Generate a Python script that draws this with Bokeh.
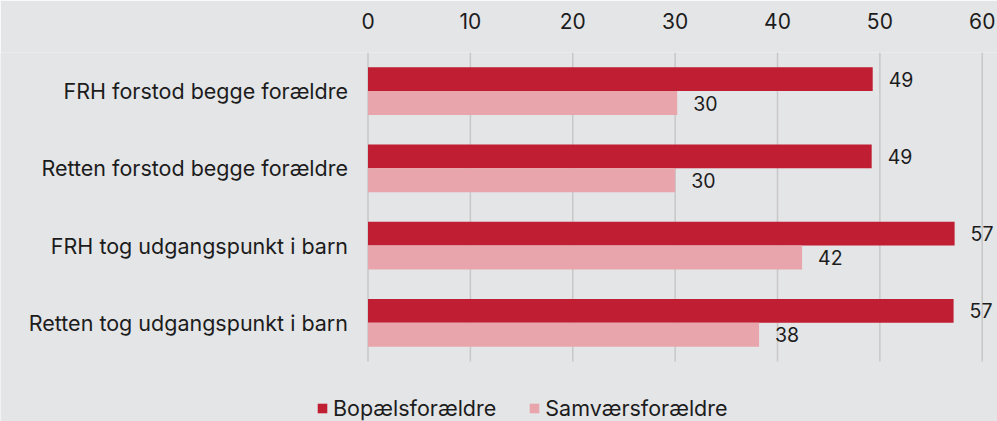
from bokeh.plotting import figure
from bokeh.models import Range1d, ColumnDataSource, Legend, LegendItem, FixedTicker, LabelSet
from bokeh.transform import dodge
from bokeh.core.properties import value
from bokeh.embed import file_html
from bokeh.resources import INLINE

categories = ["FRH forstod begge forældre", "Retten forstod begge forældre",
              "FRH tog udgangspunkt i barn", "Retten tog udgangspunkt i barn"]
bopael = [49.3, 49.2, 57.3, 57.2]
samvaer = [30.2, 30.0, 42.4, 38.2]
series_names = ["Bopælsforældre", "Samværsforældre"]
x_ticks = [0, 10, 20, 30, 40, 50, 60]

FONT = "Inter"
DARK = "#c01e32"
LIGHT = "#e8a6ac"
BG = "#e4e5e7"
TXT = "#1c1c1c"
GRID = "#c8c8c8"

n = len(categories)
src = ColumnDataSource(dict(
    cat=categories,
    ypos=[n - i - 0.5 for i in range(n)],
    bopael=bopael,
    samvaer=samvaer,
    bopael_lbl=[f"{v:.0f}" for v in bopael],
    samvaer_lbl=[f"{v:.0f}" for v in samvaer],
))
grid_src = ColumnDataSource(dict(t=x_ticks, y0=[0] * len(x_ticks), y1=[n] * len(x_ticks)))

p = figure(width=997, height=421,
           x_range=Range1d(-35.9, 61.49),
           y_range=Range1d(-0.777, n),
           x_axis_location="above", y_axis_type=None,
           output_backend="svg", toolbar_location=None,
           min_border_left=0, min_border_right=0,
           min_border_top=52, min_border_bottom=0)

p.background_fill_color = BG
p.border_fill_color = BG
p.outline_line_color = None

p.xaxis.ticker = FixedTicker(ticks=x_ticks)
p.xaxis.axis_line_color = None
p.xaxis.major_tick_line_color = None
p.xaxis.minor_tick_line_color = None
p.xaxis.major_label_text_font = FONT
p.xaxis.major_label_text_font_size = "21px"
p.xaxis.major_label_text_color = TXT
p.xaxis.major_label_standoff = 18
p.xgrid.visible = False

# vertical grid lines, only over the category area
p.segment(x0="t", y0="y0", x1="t", y1="y1", source=grid_src,
          line_color=GRID, line_width=1.5)

h = 0.31
r1 = p.hbar(y=dodge("ypos", h / 2), left=0, right="bopael", height=h,
            source=src, fill_color=DARK, line_color=None)
r2 = p.hbar(y=dodge("ypos", -h / 2), left=0, right="samvaer", height=h,
            source=src, fill_color=LIGHT, line_color=None)

# category labels
p.add_layout(LabelSet(x=0, y="ypos", text="cat", source=src,
                      x_offset=-20, text_baseline="middle", text_align="right",
                      text_font=value(FONT), text_font_size="21.5px", text_color=TXT))

# value labels
p.add_layout(LabelSet(x="bopael", y=dodge("ypos", h / 2), text="bopael_lbl", source=src,
                      x_offset=16, text_baseline="middle", text_align="left",
                      text_font=value(FONT), text_font_size="19.5px", text_color=TXT))
p.add_layout(LabelSet(x="samvaer", y=dodge("ypos", -h / 2), text="samvaer_lbl", source=src,
                      x_offset=16, text_baseline="middle", text_align="left",
                      text_font=value(FONT), text_font_size="19.5px", text_color=TXT))

legend = Legend(items=[LegendItem(label=series_names[0], renderers=[r1]),
                       LegendItem(label=series_names[1], renderers=[r2])],
                orientation="horizontal", location=(316, 0),
                glyph_width=12, glyph_height=12, label_height=20,
                label_standoff=5, spacing=32, padding=0, margin=0,
                label_text_font=FONT, label_text_font_size="21.5px", label_text_color=TXT,
                background_fill_alpha=0, border_line_color=None)
p.add_layout(legend, "center")

open("out.html", "w").write(file_html(p, INLINE))
